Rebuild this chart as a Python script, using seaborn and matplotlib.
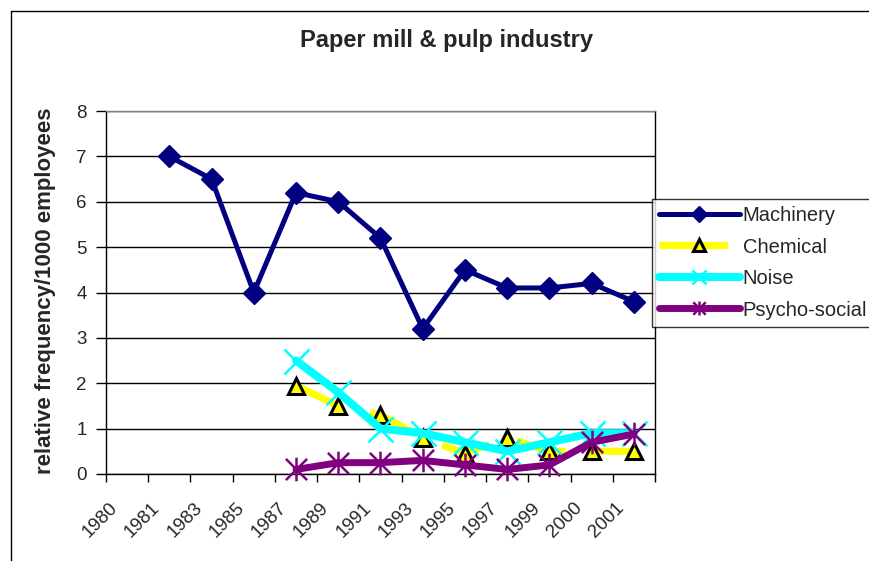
import matplotlib
matplotlib.use("Agg")
import matplotlib.pyplot as plt
from matplotlib.lines import Line2D
from matplotlib.path import Path
import matplotlib.transforms as mtransforms
import numpy as np
import pandas as pd
import seaborn as sns

# Category axis (years) and series values; None = no observation
years = ["1980", "1981", "1983", "1985", "1987", "1989", "1991",
         "1993", "1995", "1997", "1999", "2000", "2001"]
machinery = [None, 7.0, 6.5, 4.0, 6.2, 6.0, 5.2, 3.2, 4.5, 4.1, 4.1, 4.2, 3.8]
chemical = [None, None, None, None, 1.95, 1.5, 1.3, 0.8, 0.45, 0.8, 0.5, 0.5, 0.5]
noise = [None, None, None, None, 2.5, 1.8, 1.0, 0.9, 0.7, 0.5, 0.7, 0.9, 0.9]
psycho_social = [None, None, None, None, 0.1, 0.25, 0.25, 0.3, 0.2, 0.1, 0.2, 0.7, 0.88]

series = {
    "Machinery": machinery,
    "Chemical": chemical,
    "Noise": noise,
    "Psycho-social": psycho_social,
}
rows = []
for name, vals in series.items():
    for i, v in enumerate(vals):
        if v is not None:
            rows.append({"series": name, "pos": i, "value": v})
df = pd.DataFrame(rows)

# asterisk marker: an X crossed by a vertical stroke
star = Path(
    [(-0.9, -0.9), (0.9, 0.9), (-0.9, 0.9), (0.9, -0.9),
     (0.0, -1.0), (0.0, 1.0)],
    [Path.MOVETO, Path.LINETO, Path.MOVETO, Path.LINETO,
     Path.MOVETO, Path.LINETO],
)

sns.set_style("white")
plt.rcParams["font.family"] = ["Liberation Sans", "DejaVu Sans"]

fig = plt.figure(figsize=(8.70, 5.61), dpi=100)
W, H = 870, 561
ax = fig.add_axes([106 / W, 1 - 474 / H, (655 - 106) / W, (474 - 111) / H])

styles = {
    "Machinery": dict(color="#000080", lw=3.6, marker="D", ms=11,
                      mfc="#000080", mec="#000080", mew=1, ls="-",
                      leg_ls="-", leg_ms=8.5),
    "Chemical": dict(color="#FFFF00", lw=5.2, marker="^", ms=11,
                     mfc="#FFFF00", mec="black", mew=2.2, ls=(0, (7, 4)),
                     leg_ls=(0, (9.5, 10)), leg_ms=8.5),
    "Noise": dict(color="#00FFFF", lw=5.8, marker="x", ms=18,
                  mfc="#00FFFF", mec="#00FFFF", mew=1.8, ls="-",
                  leg_ls="-", leg_ms=10),
    "Psycho-social": dict(color="#800080", lw=5.0, marker=star, ms=17,
                          mfc="#800080", mec="#800080", mew=1.8, ls="-",
                          leg_ls="-", leg_ms=10),
}

for name in series:
    st = styles[name]
    sub = df[df["series"] == name]
    sns.lineplot(data=sub, x="pos", y="value", ax=ax, color=st["color"],
                 linewidth=st["lw"], linestyle=st["ls"], marker=st["marker"],
                 markersize=st["ms"], markerfacecolor=st["mfc"],
                 markeredgecolor=st["mec"], markeredgewidth=st["mew"],
                 legend=False, zorder=3, clip_on=False)

ax.set_xlim(-0.5, len(years) - 0.5)
ax.set_ylim(0, 8)
ax.set_yticks(range(0, 9))
ax.yaxis.grid(True, color="black", lw=1)
ax.set_axisbelow(True)
for side in ["left", "bottom", "right", "top"]:
    ax.spines[side].set_visible(True)
    ax.spines[side].set_color("black")
    ax.spines[side].set_linewidth(1)
ax.spines["top"].set_color("#808080")

# tick marks at category boundaries; year labels drawn under each centre
ax.set_xticks(np.arange(-0.5, len(years), 1.0))
ax.set_xticklabels([])
ax.tick_params(axis="x", which="major", direction="out", length=6,
               width=1, color="black", bottom=True)
label_tf = ax.get_xaxis_transform() + mtransforms.ScaledTranslation(
    -18 / 100, -25.5 / 100, fig.dpi_scale_trans)
for i, yr in enumerate(years):
    ax.text(i, 0, yr, transform=label_tf, rotation=45, ha="right",
            va="top", rotation_mode="anchor", fontsize=13.5, clip_on=False)

ax.tick_params(axis="y", direction="out", length=7, width=1,
               color="black", labelsize=13.5, pad=7, left=True)
ax.set_xlabel("")
ax.set_ylabel("")

fig.text(46 / W, 1 - 291 / H, "relative frequency/1000 employees",
         rotation=90, ha="center", va="center", fontsize=16,
         fontweight="bold")
fig.text(447 / W, 1 - 41 / H, "Paper mill & pulp industry", ha="center",
         va="center", fontsize=17, fontweight="bold")

handles = []
for name in series:
    st = styles[name]
    handles.append(Line2D([], [], color=st["color"], lw=st["lw"],
                          ls=st["leg_ls"], marker=st["marker"],
                          ms=st["leg_ms"], mfc=st["mfc"], mec=st["mec"],
                          mew=st["mew"]))
leg = fig.legend(handles, list(series.keys()), loc="upper left",
                 bbox_to_anchor=(652 / W, 1 - 199 / H), frameon=True,
                 fancybox=False, edgecolor="black", fontsize=14.5,
                 handlelength=4.0, handletextpad=0.15, borderpad=0.35,
                 labelspacing=0.62, borderaxespad=0)
leg.get_frame().set_linewidth(1)

# outer chart border
fig.add_artist(Line2D([11 / W, 11 / W], [0, 1 - 11 / H], color="black",
                      lw=1, transform=fig.transFigure))
fig.add_artist(Line2D([11 / W, 1], [1 - 11 / H, 1 - 11 / H], color="black",
                      lw=1, transform=fig.transFigure))

fig.savefig("out.png", dpi=100, facecolor="white")
